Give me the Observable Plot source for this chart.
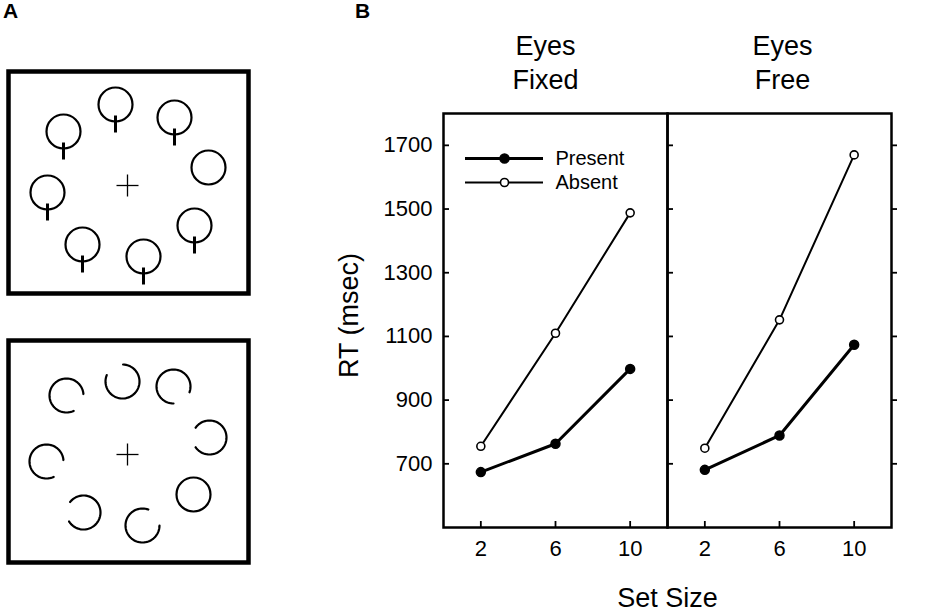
<!DOCTYPE html>
<html><head><meta charset="utf-8">
<script src="https://cdn.jsdelivr.net/npm/d3@7"></script>
<script src="https://cdn.jsdelivr.net/npm/@observablehq/plot@0.6"></script>
<style>
html,body{margin:0;padding:0;background:#fff;}
#root{position:relative;width:935px;height:615px;overflow:hidden;background:#fff;font-family:"Liberation Sans",Arial,Helvetica,sans-serif;color:#000;}
#root svg{position:absolute;}
.letter{position:absolute;font-weight:bold;font-size:21px;line-height:21px;font-family:"Liberation Sans",Arial,Helvetica,sans-serif;}
</style></head><body><div id="root"></div>
<script>
// ---------- Panel B data ----------
const setSizes = [2, 6, 10];
const conditions = ["Eyes Fixed", "Eyes Free"];
const series = ["Present", "Absent"];
const presentFixed = [674, 763, 998];
const absentFixed = [755, 1110, 1488];
const presentFree = [681, 789, 1074];
const absentFree = [749, 1152, 1670];
const yTicks = [700, 900, 1100, 1300, 1500, 1700];
const xTicks = [2, 6, 10];

// ---------- Panel A data (stimulus displays, item location relative to fixation) ----------
const qItemX = [-64, -12, 47, 81, 67, 16, -45, -80];
const qItemY = [-54, -81, -68, -18, 40, 71, 59, 7];
const qHasLine = [true, true, true, false, true, true, true, true];
const cItemX = [-61, -5, 46, 82, 66, 15, -44, -81];
const cItemY = [-59, -73, -68, -17, 40, 71, 58, 7];
const cGapDir = [-30, 123, -55, 180, null, 35, 177, -30]; // degrees, null = closed circle

const FONT = '"Liberation Sans", Arial, Helvetica, sans-serif';
const root = document.getElementById("root");

// ---------- Panel A ----------
const R = 17;
function displayPlot(marks) {
  return Plot.plot({
    width: 256, height: 238, margin: 8,
    x: {domain: [-119, 121], axis: null},
    y: {domain: [-114, 108], reverse: true, axis: null},
    style: {background: "transparent"},
    marks: [
      Plot.frame({stroke: "black", strokeWidth: 4.5}),
      Plot.link([{x: 0, y: 0}], {x1: d => d.x - 11, x2: d => d.x + 11, y1: "y", y2: "y", stroke: "black", strokeWidth: 1.3}),
      Plot.link([{x: 0, y: 0}], {x1: "x", x2: "x", y1: d => d.y - 11, y2: d => d.y + 11, stroke: "black", strokeWidth: 1.3}),
      ...marks
    ]
  });
}
const qItems = qItemX.map((x, i) => ({x, y: qItemY[i], line: qHasLine[i]}));
const topDisp = displayPlot([
  Plot.dot(qItems, {x: "x", y: "y", r: R, stroke: "black", strokeWidth: 2.2, fill: "none"}),
  Plot.link(qItems.filter(d => d.line), {x1: "x", x2: "x", y1: d => d.y + 11, y2: d => d.y + 28, stroke: "black", strokeWidth: 3})
]);
topDisp.style.left = "0px"; topDisp.style.top = "63px";
root.appendChild(topDisp);

const cItems = cItemX.map((x, i) => ({id: i, x, y: cItemY[i], gap: cGapDir[i]}));
const arcPts = [];
cItems.filter(d => d.gap !== null).forEach(d => {
  const half = 35;
  for (let a = d.gap + half; a <= d.gap + 360 - half + 0.01; a += 5) {
    const t = a * Math.PI / 180;
    arcPts.push({id: d.id, x: d.x + R * Math.cos(t), y: d.y - R * Math.sin(t)});
  }
});
const botDisp = displayPlot([
  Plot.dot(cItems.filter(d => d.gap === null), {x: "x", y: "y", r: R, stroke: "black", strokeWidth: 2.2, fill: "none"}),
  Plot.line(arcPts, {x: "x", y: "y", z: "id", stroke: "black", strokeWidth: 2.2, curve: "linear"})
]);
botDisp.style.left = "0px"; botDisp.style.top = "332px";
root.appendChild(botDisp);

// ---------- Panel B ----------
const rows = [];
conditions.forEach((c, ci) => {
  const pres = ci === 0 ? presentFixed : presentFree;
  const abs = ci === 0 ? absentFixed : absentFree;
  setSizes.forEach((s, i) => {
    rows.push({cond: c, series: "Present", size: s, rt: pres[i]});
    rows.push({cond: c, series: "Absent", size: s, rt: abs[i]});
  });
});
const pres = rows.filter(d => d.series === "Present");
const absn = rows.filter(d => d.series === "Absent");

const plotB = Plot.plot({
  width: 605, height: 615,
  marginLeft: 113, marginRight: 44, marginTop: 113, marginBottom: 88,
  style: {fontFamily: FONT, color: "black", background: "transparent"},
  fx: {domain: conditions, padding: 0, axis: null, label: null},
  x: {domain: [0, 12]},
  y: {domain: [500, 1800]},
  marks: [
    Plot.frame({stroke: "black", strokeWidth: 2.5}),
    Plot.axisY({anchor: "left", ticks: yTicks, tickFormat: d => String(d), tickSize: 0, tickPadding: 11, fontSize: 22, label: null}),
    Plot.axisX({anchor: "bottom", ticks: xTicks, tickFormat: d => String(d), tickSize: 0, tickPadding: 13, fontSize: 22, label: null}),
    Plot.tickY(yTicks, {y: d => d, insetRight: 218, stroke: "black", strokeWidth: 1.8}),
    Plot.tickY(yTicks, {y: d => d, fx: () => conditions[1], insetLeft: 224, insetRight: -6, stroke: "black", strokeWidth: 1.8}),
    Plot.ruleX(xTicks, {x: d => d, insetTop: 408, stroke: "black", strokeWidth: 1.8}),
    Plot.text([conditions[0]], {fx: d => d, text: d => d.replace(" ", "\n"), frameAnchor: "top", dy: -25, dx: -10, lineAnchor: "bottom", lineHeight: 1.23, fontSize: 27}),
    Plot.text([conditions[1]], {fx: d => d, text: d => d.replace(" ", "\n"), frameAnchor: "top", dy: -25, dx: 3, lineAnchor: "bottom", lineHeight: 1.23, fontSize: 27}),
    Plot.text(["RT (msec)"], {fx: () => conditions[0], text: d => d, frameAnchor: "left", rotate: -90, dx: -86, dy: -5, lineAnchor: "bottom", textAnchor: "middle", fontSize: 27}),
    Plot.text(["Set Size"], {fx: () => conditions[0], text: d => d, frameAnchor: "bottom-right", dy: 79, lineAnchor: "bottom", textAnchor: "middle", fontSize: 27}),
    Plot.line(absn, {fx: "cond", x: "size", y: "rt", stroke: "black", strokeWidth: 2}),
    Plot.line(pres, {fx: "cond", x: "size", y: "rt", stroke: "black", strokeWidth: 3}),
    Plot.dot(absn, {fx: "cond", x: "size", y: "rt", r: 4, fill: "white", stroke: "black", strokeWidth: 1.6}),
    Plot.dot(pres, {fx: "cond", x: "size", y: "rt", r: 4.5, fill: "black", stroke: "black"})
  ]
});
plotB.style.left = "330px"; plotB.style.top = "0px";
root.appendChild(plotB);

// ---------- Legend (inside left facet) ----------
const legend = Plot.plot({
  width: 160, height: 44, marginTop: 10, marginBottom: 10, marginLeft: 0, marginRight: 82,
  y: {type: "point", domain: series, padding: 0, axis: null},
  style: {fontFamily: FONT, color: "black", background: "transparent", overflow: "visible"},
  marks: [
    Plot.ruleY(["Present"], {y: d => d, stroke: "black", strokeWidth: 3}),
    Plot.ruleY(["Absent"], {y: d => d, stroke: "black", strokeWidth: 2}),
    Plot.dot(["Present"], {y: d => d, frameAnchor: "middle", r: 4.5, fill: "black", stroke: "black"}),
    Plot.dot(["Absent"], {y: d => d, frameAnchor: "middle", r: 4, fill: "white", stroke: "black", strokeWidth: 1.6}),
    Plot.text(series, {y: d => d, text: d => d, frameAnchor: "right", dx: 12, textAnchor: "start", fontSize: 20})
  ]
});
legend.style.left = "465px"; legend.style.top = "148px";
root.appendChild(legend);

// ---------- Panel letters ----------
[["A", 3], ["B", 355]].forEach(([t, x]) => {
  const d = document.createElement("div");
  d.className = "letter"; d.textContent = t;
  d.style.left = x + "px"; d.style.top = "0px";
  root.appendChild(d);
});
</script></body></html>
